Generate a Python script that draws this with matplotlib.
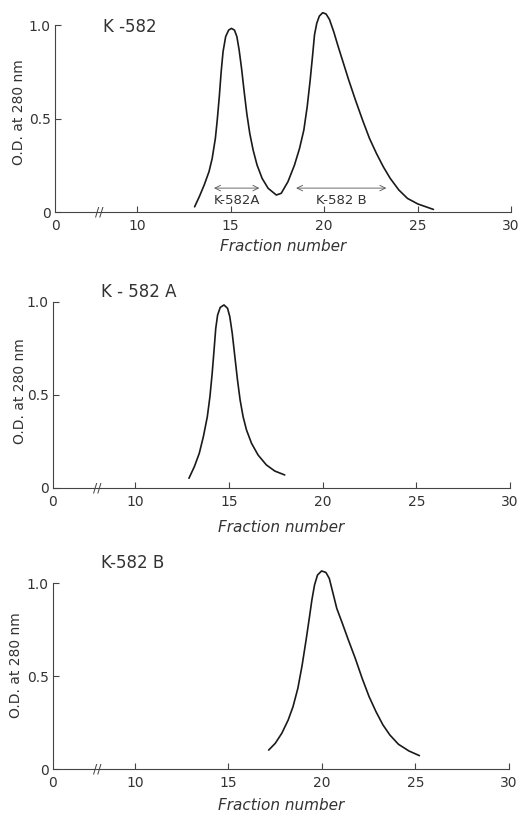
import numpy as np
import matplotlib.pyplot as plt

# fraction number / O.D. at 280 nm
frac_all = [13.08, 13.33, 13.59, 13.85, 14.02, 14.19, 14.29, 14.40, 14.50, 14.60,
            14.74, 14.90, 15.05, 15.21, 15.34, 15.46, 15.59, 15.73, 15.87, 16.03,
            16.21, 16.42, 16.69, 17.01, 17.45, 17.71, 18.07, 18.42, 18.69, 18.92,
            19.10, 19.26, 19.40, 19.49, 19.61, 19.75, 19.93, 20.11, 20.29, 20.52,
            20.76, 21.04, 21.32, 21.68, 22.06, 22.43, 22.80, 23.17, 23.54, 24.00,
            24.46, 25.02, 25.85]
od_all = [0.028, 0.082, 0.144, 0.216, 0.287, 0.394, 0.492, 0.617, 0.750, 0.857,
          0.938, 0.973, 0.982, 0.973, 0.938, 0.867, 0.768, 0.644, 0.527, 0.420,
          0.331, 0.251, 0.180, 0.127, 0.091, 0.100, 0.162, 0.251, 0.340, 0.438,
          0.563, 0.706, 0.849, 0.947, 1.009, 1.048, 1.066, 1.059, 1.030, 0.964,
          0.884, 0.795, 0.706, 0.599, 0.492, 0.394, 0.314, 0.242, 0.180, 0.118,
          0.073, 0.043, 0.014]

frac_a = [12.87, 13.16, 13.42, 13.64, 13.85, 13.99, 14.11, 14.21, 14.30, 14.40,
          14.54, 14.74, 14.93, 15.05, 15.18, 15.32, 15.46, 15.60, 15.76, 15.94,
          16.21, 16.56, 17.00, 17.45, 17.98]
od_a = [0.052, 0.115, 0.186, 0.276, 0.383, 0.491, 0.617, 0.742, 0.858, 0.930,
        0.971, 0.984, 0.966, 0.921, 0.832, 0.706, 0.581, 0.473, 0.383, 0.312,
        0.240, 0.177, 0.124, 0.091, 0.070]

frac_b = [17.15, 17.50, 17.85, 18.19, 18.45, 18.71, 18.94, 19.15, 19.32, 19.46,
          19.60, 19.76, 19.98, 20.21, 20.39, 20.57, 20.79, 21.09, 21.41, 21.78,
          22.15, 22.52, 22.89, 23.26, 23.63, 24.09, 24.65, 25.21]
od_b = [0.102, 0.138, 0.192, 0.263, 0.335, 0.434, 0.559, 0.694, 0.810, 0.909,
        0.989, 1.043, 1.065, 1.057, 1.025, 0.953, 0.864, 0.783, 0.694, 0.595,
        0.487, 0.389, 0.308, 0.237, 0.183, 0.133, 0.097, 0.072]

titles = ["K -582", "K - 582 A", "K-582 B"]
xticks = [0, 10, 15, 20, 25, 30]
yticks = [0, 0.5, 1.0]
ytick_labels = ["0", "0.5", "1.0"]

# pooled fractions marked on the first profile
pool_names = ["K-582A", "K-582 B"]
pool_start = [14.12, 18.51]
pool_end = [16.54, 23.33]

# axis is broken between 0 and 10
K = 0.4385


def fwd(x):
    x = np.asarray(x, float)
    return np.where(x < 10, 10 - (10 - x) * K, x)


def inv(t):
    t = np.asarray(t, float)
    return np.where(t < 10, 10 - (10 - t) / K, t)


ink = "#1a1a1a"
txt = "#333333"

fig = plt.figure(figsize=(5.23, 8.13), dpi=100)
rects = [[0.1052, 0.7392, 0.8719, 0.2576],
         [0.1013, 0.3998, 0.8738, 0.2562],
         [0.1013, 0.0541, 0.8719, 0.2562]]
ylab_pos = [(-0.079, 0.478), (-0.072, 0.464), (-0.081, 0.50)]
title_y = [0.99, 1.054, 1.107]
xlab_y = [-0.165, -0.19, -0.175]
curves = [(frac_all, od_all), (frac_a, od_a), (frac_b, od_b)]

for i in range(3):
    ax = fig.add_axes(rects[i])
    ax.set_xscale('function', functions=(fwd, inv))
    ax.set_xlim(0, 30)
    ax.set_ylim(0, 1.12)

    x, y = curves[i]
    ax.plot(x, y, color=ink, lw=1.2, solid_capstyle='round',
            solid_joinstyle='round')

    for s in ['top', 'right']:
        ax.spines[s].set_visible(False)
    ax.spines['left'].set_bounds(0, 1.0)
    for s in ['left', 'bottom']:
        ax.spines[s].set_color('#444444')
        ax.spines[s].set_linewidth(0.8)

    ax.set_xticks(xticks)
    ax.set_xticklabels([str(t) for t in xticks])
    ax.xaxis.get_major_ticks()[0].tick1line.set_visible(False)
    ax.set_yticks(yticks)
    ax.set_yticklabels(ytick_labels)
    ax.tick_params(direction='in', length=4, width=0.8, color='#444444',
                   labelsize=10, labelcolor=txt)
    ax.tick_params(axis='x', pad=5)
    ax.tick_params(axis='y', pad=3)
    ax.minorticks_off()

    # break marks on the x axis
    ax.text(5.4, 0, "//", ha='center', va='center', fontsize=9, color='#444444')

    ax.text(0.105, title_y[i], titles[i], transform=ax.get_yaxis_transform(),
            fontsize=12, color=txt, ha='left', va='center')
    ax.text(ylab_pos[i][0], ylab_pos[i][1], "O.D. at 280 nm", transform=ax.transAxes,
            rotation=90, ha='center', va='center', fontsize=10, color=txt)
    ax.text(0.5, xlab_y[i], "Fraction number", transform=ax.transAxes,
            ha='center', va='center', fontsize=11, color=txt, style='italic')

    if i == 0:
        for name, a, b in zip(pool_names, pool_start, pool_end):
            ax.annotate('', xy=(a, 0.128), xytext=(b, 0.128),
                        arrowprops=dict(arrowstyle='<->', lw=0.6, color='#555555',
                                        shrinkA=0, shrinkB=0))
            ax.text((a + b) / 2, 0.062, name, ha='center', va='center',
                    fontsize=9.5, color=txt)

fig.savefig("out.png", dpi=100)
